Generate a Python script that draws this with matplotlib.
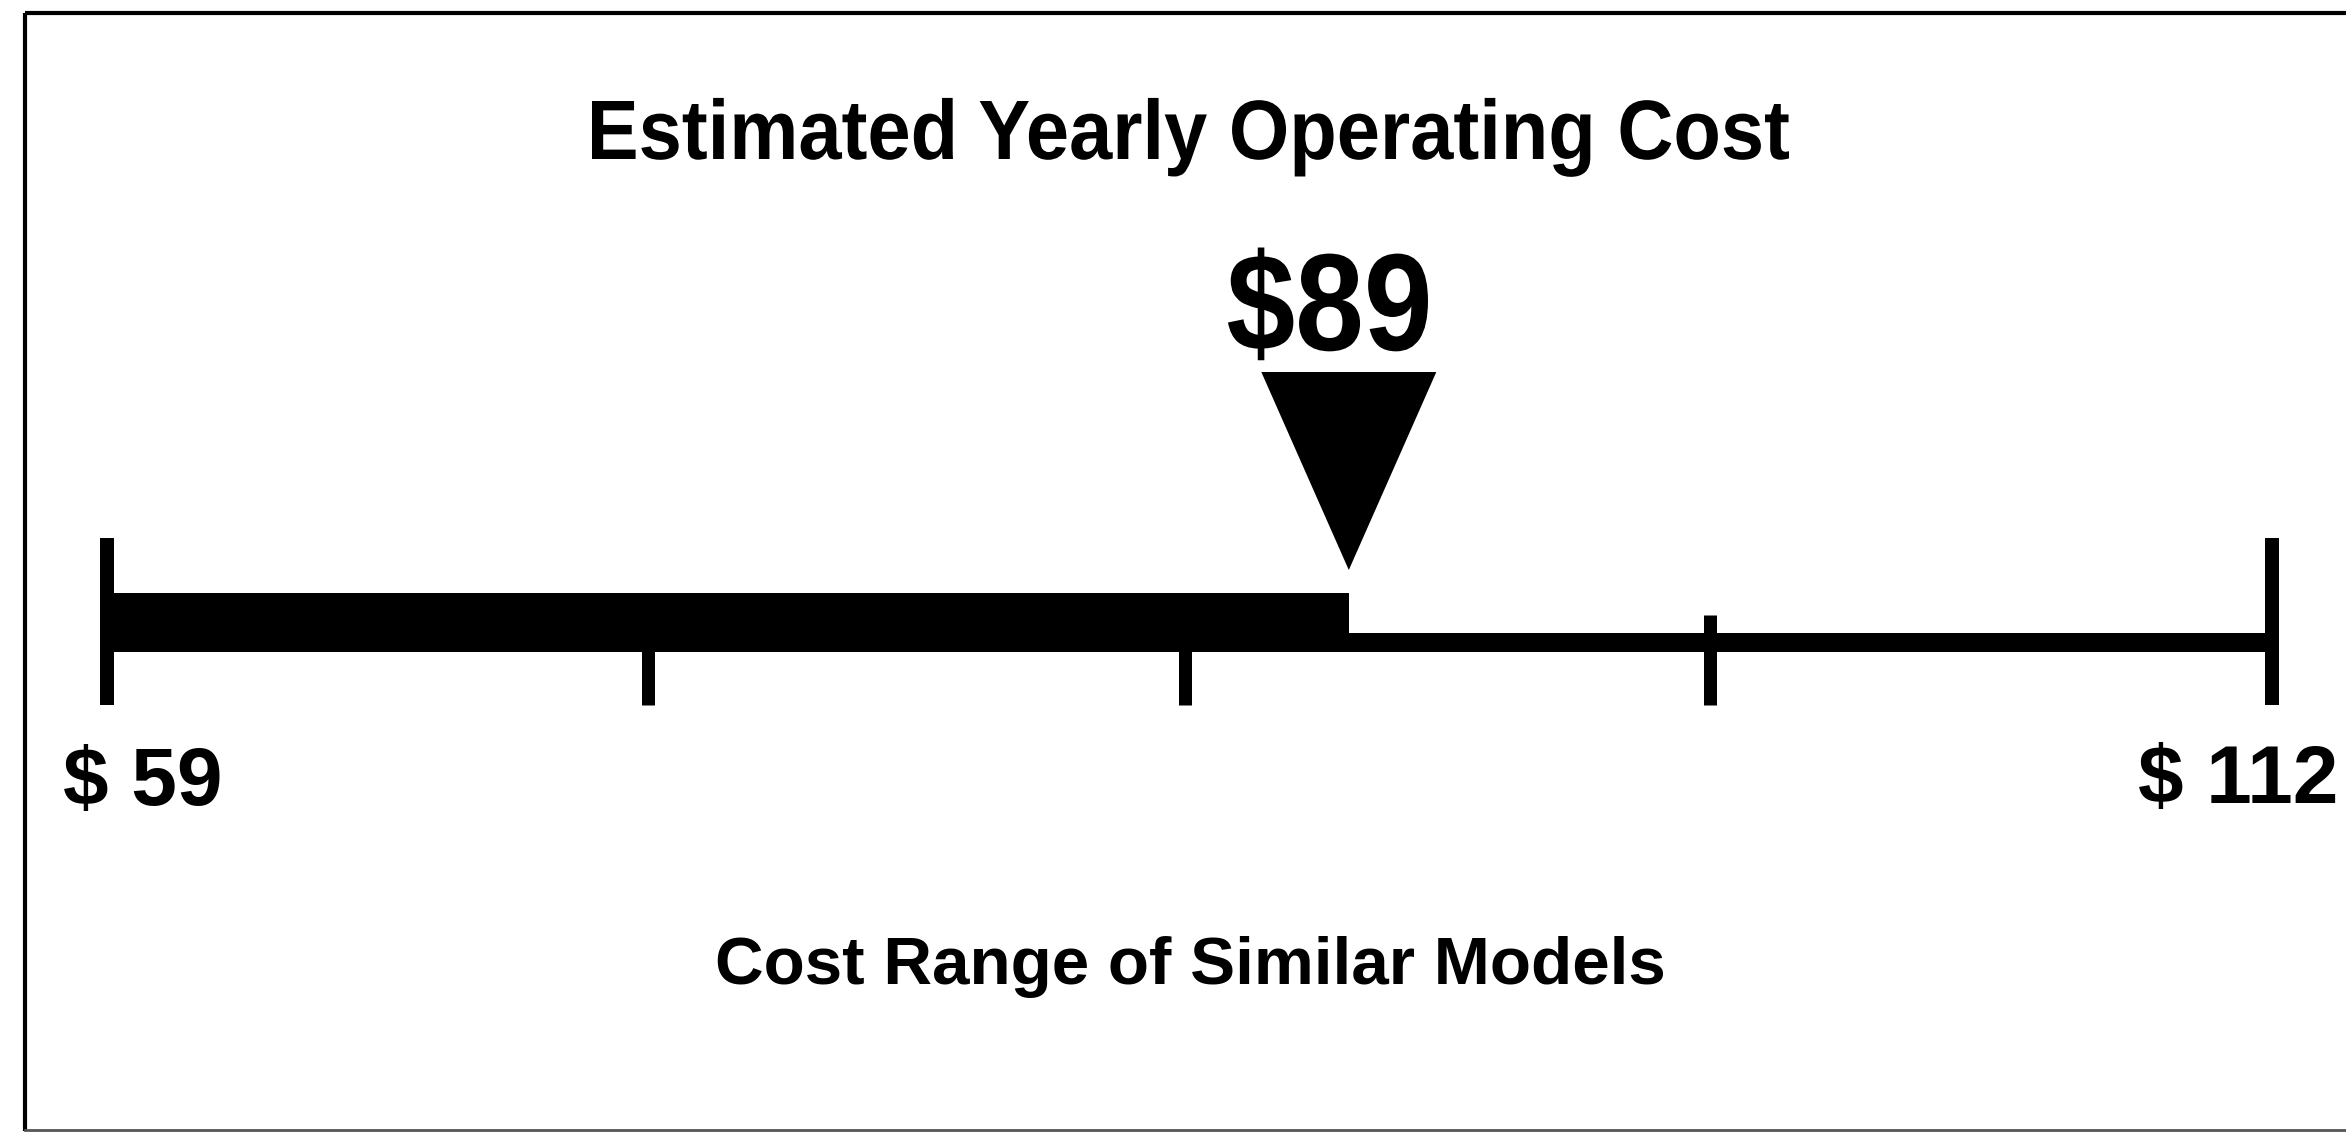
import matplotlib
matplotlib.use("Agg")
import matplotlib.pyplot as plt
import matplotlib.transforms as mtransforms
from matplotlib.lines import Line2D
from matplotlib.patches import PathPatch
from matplotlib.textpath import TextPath
from matplotlib.font_manager import FontProperties

# Cost scale data
range_low = 59
range_high = 112
estimate = 89
estimate_pos = 89.4          # where the marker actually sits on the scale
minor_ticks = [72.25, 85.4, 98.25]

title = "Estimated Yearly Operating Cost"
subtitle = "Cost Range of Similar Models"
low_label = f"$ {range_low}"
high_label = f"$ {range_high}"
estimate_label = f"${estimate}"

W, H, DPI = 2346, 1132, 100
regular = ["Liberation Sans", "DejaVu Sans"]
bold_prop = FontProperties(family=regular, weight="bold")

fig = plt.figure(figsize=(W / DPI, H / DPI), dpi=DPI)
fig.patch.set_facecolor("white")
ax = fig.add_axes([0, 0, 1, 1])

# x in dollars, y in pixels from the top
px_per_dollar = (2272 - 107) / (range_high - range_low)
ax.set_xlim(range_low - 107 / px_per_dollar, range_high + (W - 2272) / px_per_dollar)
ax.set_ylim(H, 0)
ax.axis("off")


def condensed_text(s, left, baseline, cap_px, width_px):
    """Bold text squeezed horizontally (no narrow font installed)."""
    cap_ratio = TextPath((0, 0), "H", size=1, prop=bold_prop).get_extents().height
    tp = TextPath((0, 0), s, size=cap_px / cap_ratio, prop=bold_prop)
    bb = tp.get_extents()
    tr = mtransforms.Affine2D().translate(-bb.x0, 0).scale(width_px / bb.width, 1) \
        .translate(left, H - baseline)
    fig.add_artist(PathPatch(tp, transform=tr, facecolor="black", lw=0))


# thin full-range line and thick bar up to the estimate
ax.barh(642.5, range_high - range_low, left=range_low, height=19, color="black", zorder=2)
ax.barh(622, estimate_pos - range_low, left=range_low, height=58, color="black", zorder=3)

# end ticks and intermediate ticks
ax.vlines([range_low, range_high], 538, 705, color="black", lw=14 * 72 / DPI,
          capstyle="butt", zorder=4)
ax.vlines(minor_ticks, 615, 705, color="black", lw=13 * 72 / DPI, capstyle="butt", zorder=4)

# downward triangle marker
half_w = 87.5 / px_per_dollar
ax.fill([estimate_pos - half_w, estimate_pos + half_w, estimate_pos], [372, 372, 570],
        color="black", lw=0, zorder=5)

# big estimate label and title in condensed bold
condensed_text(estimate_label, 1228, 350, 95, 200)
condensed_text(title, 592, 159, 58, 1197)

ax.annotate(low_label, xy=(range_low, 805), xytext=(-44, 0), textcoords="offset pixels",
            ha="left", va="baseline", fontsize=59, fontweight="bold", family=regular)
ax.annotate(high_label, xy=(range_high, 803), xytext=(66, 0), textcoords="offset pixels",
            ha="right", va="baseline", fontsize=59, fontweight="bold", family=regular)

blend = mtransforms.blended_transform_factory(ax.transAxes, ax.transData)
ax.text(1190 / W, 984, subtitle, transform=blend, ha="center", va="baseline",
        fontsize=48.5, fontweight="bold", family=regular)

# label frame (right side runs off the image)
fx = lambda px: px / W
fy = lambda py: 1 - py / H
frame = dict(color="black", lw=3, solid_capstyle="butt", transform=fig.transFigure)
fig.add_artist(Line2D([fx(25), fx(25)], [fy(13), fy(1131)], **frame))
fig.add_artist(Line2D([fx(25), 1], [fy(13), fy(13)], **frame))
fig.add_artist(Line2D([fx(25), 1], [fy(1130), fy(1130)], color="#555555", lw=2,
                      transform=fig.transFigure))

fig.savefig("out.png", dpi=DPI, facecolor="white")
